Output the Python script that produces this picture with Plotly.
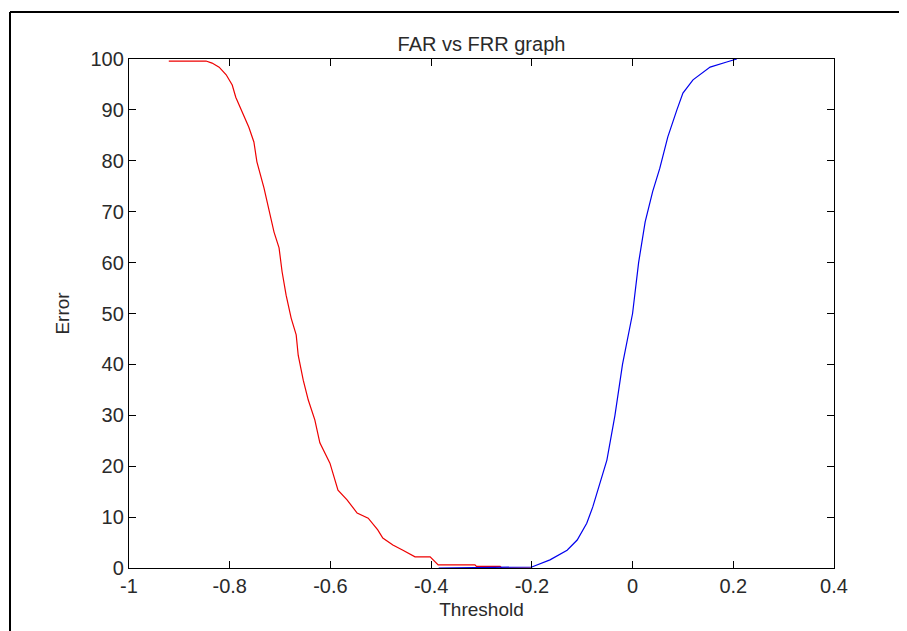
import plotly.graph_objects as go

# Data
far_x = [-0.921, -0.847, -0.835, -0.821, -0.807, -0.795, -0.788, -0.772, -0.762, -0.752,
         -0.746, -0.732, -0.722, -0.712, -0.702, -0.696, -0.688, -0.678, -0.668, -0.664,
         -0.654, -0.644, -0.631, -0.621, -0.601, -0.585, -0.567, -0.547, -0.525, -0.506,
         -0.496, -0.476, -0.456, -0.432, -0.402, -0.386, -0.313, -0.31, -0.263, -0.26,
         -0.2]
far_y = [99.6, 99.6, 99.2, 98.4, 96.9, 94.9, 92.5, 89.0, 86.6, 83.7,
         79.8, 74.7, 70.0, 66.0, 62.9, 58.2, 53.6, 49.1, 45.8, 41.8,
         36.9, 33.0, 29.1, 24.6, 20.6, 15.3, 13.4, 10.8, 9.8, 7.5,
         5.9, 4.5, 3.5, 2.2, 2.2, 0.6, 0.6, 0.3, 0.3, 0.0,
         0.0]

frr_x = [-0.385, -0.2, -0.164, -0.13, -0.11, -0.091, -0.079, -0.065, -0.051, -0.035,
         -0.02, 0.0, 0.012, 0.025, 0.04, 0.054, 0.07, 0.088, 0.10, 0.12,
         0.154, 0.187, 0.207]
frr_y = [0, 0.2, 1.6, 3.5, 5.5, 8.8, 12, 16.7, 21.2, 30,
         40, 50, 60, 68, 74, 78.5, 84.7, 90, 93.3, 95.9,
         98.4, 99.4, 100]

x_ticks = [-1, -0.8, -0.6, -0.4, -0.2, 0, 0.2, 0.4]
x_tick_labels = ["-1", "-0.8", "-0.6", "-0.4", "-0.2", "0", "0.2", "0.4"]
y_ticks = [0, 10, 20, 30, 40, 50, 60, 70, 80, 90, 100]

FONT = "Liberation Sans, Arial, sans-serif"
TXT = "#2a2a2a"

fig = go.Figure()
fig.add_trace(go.Scatter(x=far_x, y=far_y, mode="lines",
                         line=dict(color="#ee0000", width=1.2), showlegend=False))
fig.add_trace(go.Scatter(x=frr_x, y=frr_y, mode="lines",
                         line=dict(color="#0000ee", width=1.2), showlegend=False))

axis_common = dict(showline=True, linecolor="black", linewidth=1.3, mirror="ticks",
                   ticks="inside", ticklen=7, tickcolor="black", tickwidth=1.3,
                   showgrid=False, zeroline=False,
                   tickfont=dict(family=FONT, size=20, color=TXT))

# page body has an 8px offset; figure is sized so the plot box lands at
# x 129..834, y 59..568 in the window
fig.update_layout(
    width=899, height=623,
    margin=dict(l=121, r=73, t=51, b=63),
    paper_bgcolor="white", plot_bgcolor="white",
    title=dict(text="FAR vs FRR graph", x=0.5, xref="paper", xanchor="center",
               y=1 - 36 / 623, yanchor="middle",
               font=dict(family=FONT, size=20, color=TXT)),
    xaxis=dict(range=[-1, 0.4], tickvals=x_ticks, ticktext=x_tick_labels,
               title=dict(text="Threshold", standoff=6,
                          font=dict(family=FONT, size=19, color=TXT)),
               **axis_common),
    yaxis=dict(range=[0, 100], tickvals=y_ticks,
               title=dict(text="Error", standoff=15,
                          font=dict(family=FONT, size=19, color=TXT)),
               **axis_common),
    shapes=[
        dict(type="line", xref="paper", yref="paper",
             x0=(10 - 129) / 705, x1=(907 - 129) / 705,
             y0=(568 - 12) / 509, y1=(568 - 12) / 509,
             line=dict(color="black", width=2)),
        dict(type="line", xref="paper", yref="paper",
             x0=(10 - 129) / 705, x1=(10 - 129) / 705,
             y0=(568 - 12) / 509, y1=(568 - 640) / 509,
             line=dict(color="black", width=2)),
    ],
)

fig.write_html("out.html")
